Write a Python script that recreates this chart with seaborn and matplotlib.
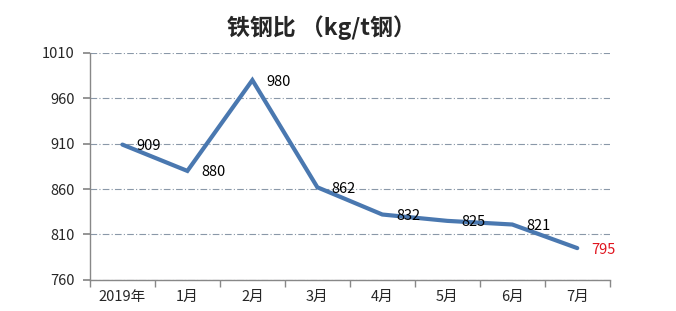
import matplotlib
matplotlib.use("Agg")
import matplotlib.pyplot as plt
import seaborn as sns
import pandas as pd
import numpy as np

categories = ["2019年", "1月", "2月", "3月", "4月", "5月", "6月", "7月"]
values = [909, 880, 980, 862, 832, 825, 821, 795]
yticks = [760, 810, 860, 910, 960, 1010]
title = "铁钢比 （kg/t钢）"

sns.set_theme(style="white")
plt.rcParams['font.family'] = ['Noto Sans CJK SC', 'DejaVu Sans']

df = pd.DataFrame({"x": np.arange(len(categories)), "y": values})

fig = plt.figure(figsize=(6.76, 3.11), dpi=100)
ax = fig.add_axes([0.133, 0.10, 0.769, 0.73])

sns.lineplot(data=df, x="x", y="y", ax=ax, color="#4A78B0", linewidth=3, solid_joinstyle="miter")

for i, v in enumerate(values):
    col = "#E0141E" if i == len(values) - 1 else "black"
    ax.annotate(str(v), (i, v), xytext=(10, -1), textcoords="offset points",
                ha="left", va="center", fontsize=10.5, color=col)

ax.set_xlim(-0.5, len(categories) - 0.5)
ax.set_ylim(yticks[0], yticks[-1])
ax.set_yticks(yticks)
ax.set_yticklabels([str(t) for t in yticks], fontsize=10.5)
ax.set_xticks(np.arange(len(categories)))
ax.set_xticklabels(categories, fontsize=10.5)
ax.set_xticks(np.arange(len(categories) + 1) - 0.5, minor=True)
ax.tick_params(axis="x", which="major", length=0, pad=7)
ax.tick_params(axis="x", which="minor", length=5, color="#888888", direction="out", bottom=True)
ax.tick_params(axis="y", length=5, color="#888888", direction="out", left=True, pad=6)
ax.set_xlabel("")
ax.set_ylabel("")

ax.grid(axis="y", color="#8A98A8", linestyle=(0, (6, 2, 1, 2)), linewidth=0.8)
ax.set_axisbelow(True)
for s in ["top", "right"]:
    ax.spines[s].set_visible(False)
for s in ["left", "bottom"]:
    ax.spines[s].set_color("#888888")
    ax.spines[s].set_linewidth(1)

fig.text(0.476, 0.91, title, ha="center", va="center", fontsize=16.5, fontweight="bold")

fig.savefig("out.png", dpi=100)
